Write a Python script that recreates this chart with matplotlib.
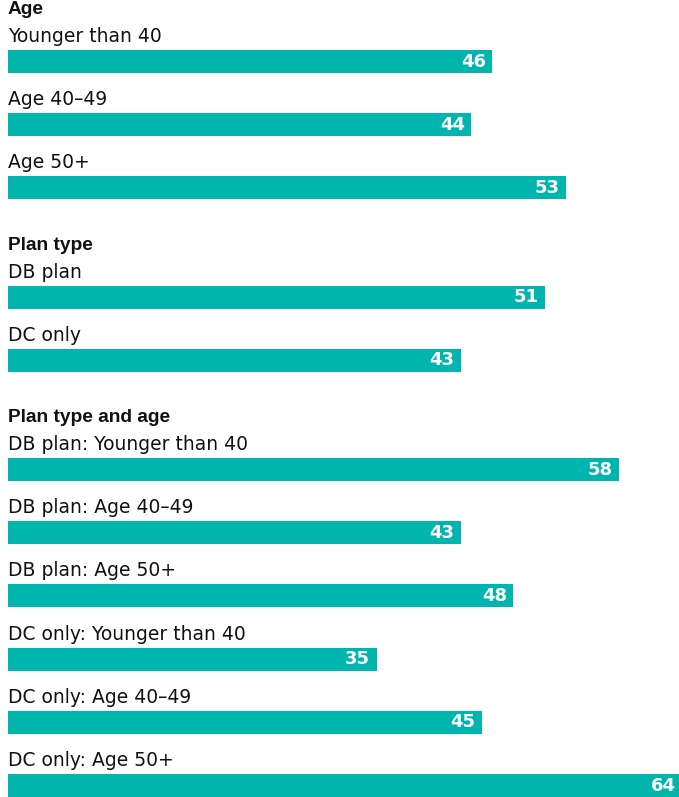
import matplotlib.pyplot as plt

# groups and rows, top to bottom
groups = ["Age", "Plan type", "Plan type and age"]
labels = [
    ["Younger than 40", "Age 40\u201349", "Age 50+"],
    ["DB plan", "DC only"],
    ["DB plan: Younger than 40", "DB plan: Age 40\u201349", "DB plan: Age 50+",
     "DC only: Younger than 40", "DC only: Age 40\u201349", "DC only: Age 50+"],
]
values = [
    [46, 44, 53],
    [51, 43],
    [58, 43, 48, 35, 45, 64],
]

teal = "#00b5ad"
plt.rcParams['font.family'] = ['DejaVu Sans']

fig = plt.figure(figsize=(6.79, 7.97), dpi=100)
ax = fig.add_axes([0, 0, 1, 1])

px_per_unit = 10.53
x0 = 8
ax.set_xlim(-x0 / px_per_unit, (679 - x0) / px_per_unit)
ax.set_ylim(797, 0)
ax.axis('off')

row_step = 63.2
group_gap = 46
bar_h = 23
y = 61.5
for gi, grp in enumerate(groups):
    first = True
    for lab, val in zip(labels[gi], values[gi]):
        ax.barh(y, val, height=bar_h, color=teal, left=0)
        top = y - bar_h / 2
        ax.text(0, top - 8, lab, ha='left', va='baseline', fontsize=13.5, color='#111111')
        if first:
            ax.text(0, top - 36, grp, ha='left', va='baseline', fontsize=13.8,
                    fontweight='bold', color='#111111',
                    family=['Liberation Sans', 'DejaVu Sans'])
            first = False
        ax.text(val - 0.6, y, str(val), ha='right', va='center', fontsize=13,
                fontweight='bold', color='white')
        y += row_step
    y += group_gap

fig.savefig("out.png", dpi=100)
